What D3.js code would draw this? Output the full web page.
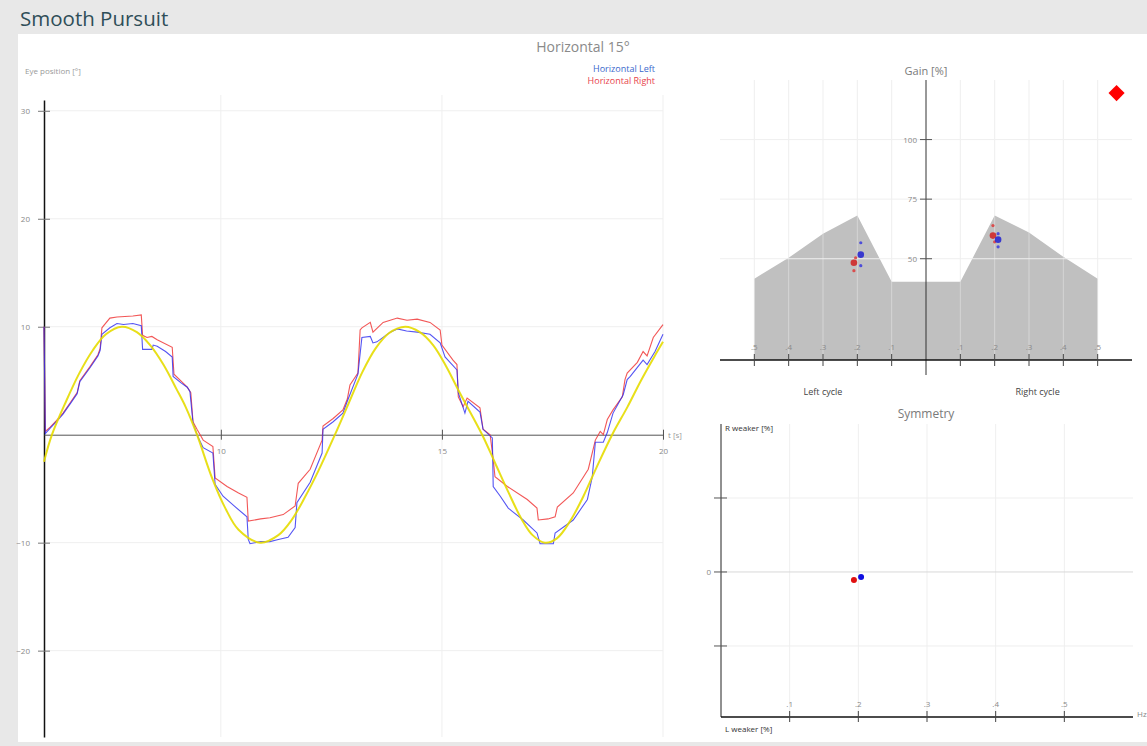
<!DOCTYPE html>
<html><head><meta charset="utf-8">
<script src="https://cdn.jsdelivr.net/npm/d3@7"></script>
<style>
html,body{margin:0;padding:0;background:#e8e8e8;}
svg{display:block;font-family:"Open Sans","Noto Sans",sans-serif;}
</style></head><body>
<svg id="c" width="1147" height="746"></svg>
<script>
// ---------------- data ----------------
const pageTitle = "Smooth Pursuit";
const mainTitle = "Horizontal 15°";
const yAxisLabel = "Eye position [°]";
const seriesNames = ["Horizontal Left", "Horizontal Right"];
const xAxisLabel = "t [s]";

const mainXTicks = [10, 15, 20];
const mainYTicks = [30, 20, 10, -10, -20];

// stimulus (target) position [t, deg]
const stimulus = [
 [6.0,-2.5],[6.18,0],[6.5,3.1],[6.8,5.7],[7.1,7.8],[7.4,9.3],[7.76,10.0],[8.1,9.5],[8.4,8.3],
 [8.7,6.5],[9.0,4.2],[9.2,2.6],[9.46,0],[9.8,-4.0],[10.1,-6.8],[10.4,-8.8],[10.89,-10.0],
 [11.3,-9.3],[11.6,-7.9],[11.9,-5.8],[12.2,-3.4],[12.58,0],[12.9,3.0],[13.2,5.8],[13.5,8.0],
 [13.8,9.4],[14.17,10.0],[14.5,9.5],[14.8,8.3],[15.1,6.3],[15.4,3.9],[15.91,0],[16.2,-2.6],
 [16.5,-5.3],[16.8,-7.8],[17.05,-9.3],[17.33,-10.0],[17.6,-9.6],[17.9,-8.0],[18.2,-5.7],
 [18.5,-3.0],[18.85,0],[19.2,2.6],[19.5,5.0],[19.8,7.2],[20.0,8.6]
];

// Horizontal Left eye position [t, deg]
const horizontalLeft = [
 [6.00,10.0],[6.03,0.1],[6.14,0.6],[6.28,1.2],[6.43,1.9],[6.6,2.9],[6.75,3.8],[6.81,4.9],[7.04,6.2],[7.22,7.3],
 [7.27,7.8],[7.31,9.3],[7.49,9.9],[7.65,10.3],[7.8,10.2],[8.01,10.3],[8.20,10.1],[8.23,7.9],[8.44,7.9],
 [8.47,8.3],[8.56,8.2],[8.75,7.7],[8.90,7.2],[8.92,5.4],[9.1,4.8],[9.24,4.4],[9.30,4.0],[9.37,1.1],[9.48,-0.2],
 [9.60,-1.2],[9.82,-1.7],[9.87,-4.6],[10.05,-5.7],[10.3,-6.6],[10.59,-7.6],[10.62,-9.7],[10.66,-10.1],
 [10.9,-9.9],[11.11,-9.9],[11.3,-9.7],[11.52,-9.5],[11.68,-8.6],[11.72,-6.3],[12.02,-4.4],[12.29,-1.7],
 [12.31,0.5],[12.54,1.2],[12.76,2.0],[12.86,3.1],[13.10,5.6],[13.19,9.0],[13.38,9.1],[13.44,8.5],
 [13.53,8.6],[13.83,9.5],[13.99,9.8],[14.2,9.6],[14.44,9.5],[14.73,9.3],[14.96,8.5],[15.07,7.2],
 [15.34,6.0],[15.37,3.9],[15.52,2.0],[15.59,3.1],[15.86,2.1],[15.93,0.5],[16.14,-0.3],[16.16,-4.8],
 [16.32,-5.7],[16.50,-6.8],[16.59,-7.1],[16.84,-7.9],[17.15,-9.1],[17.22,-10.1],[17.52,-10.1],
 [17.56,-9.1],[17.97,-7.9],[18.29,-6.0],[18.40,-3.9],[18.47,-0.7],[18.65,-0.7],[18.74,0.2],
 [18.87,2.0],[19.10,3.7],[19.19,5.1],[19.26,5.4],[19.55,6.9],[19.64,6.5],[19.82,7.7],[20.00,9.3]
];

// Horizontal Right eye position [t, deg]
const horizontalRight = [
 [6.00,10.0],[6.03,0.3],[6.14,0.7],[6.28,1.3],[6.43,2.0],[6.6,3.0],[6.75,3.9],[6.81,5.0],[7.04,6.3],[7.22,7.4],
 [7.27,8.0],[7.31,9.9],[7.49,10.8],[7.65,10.9],[8.01,11.0],[8.20,11.1],[8.23,9.2],[8.33,9.0],
 [8.44,9.1],[8.56,8.8],[8.90,8.1],[8.94,5.6],[9.24,4.4],[9.32,3.9],[9.37,1.2],[9.46,0.5],[9.60,-0.5],
 [9.82,-1.1],[9.87,-4.0],[10.14,-4.8],[10.4,-5.4],[10.59,-5.8],[10.62,-8.0],[10.9,-7.8],[11.11,-7.7],[11.41,-7.4],
 [11.68,-6.6],[11.75,-4.5],[12.02,-3.2],[12.29,-0.5],[12.31,0.8],[12.54,1.5],[12.76,2.3],[12.86,3.3],
 [12.92,4.6],[13.10,5.7],[13.15,9.7],[13.19,9.9],[13.38,10.4],[13.44,9.5],[13.67,10.4],[13.99,10.8],
 [14.21,10.6],[14.44,10.7],[14.73,10.4],[14.96,9.7],[15.00,8.3],[15.25,6.9],[15.34,6.5],[15.37,3.5],
 [15.48,2.6],[15.57,3.4],[15.86,2.5],[15.93,0.5],[16.09,0.0],[16.16,-2.3],[16.20,-3.9],[16.48,-4.8],
 [16.93,-6.0],[17.15,-6.8],[17.18,-7.9],[17.4,-7.8],[17.56,-7.6],[17.61,-6.7],[17.97,-5.4],[18.31,-3.2],
 [18.47,-0.5],[18.58,0.3],[18.65,0.0],[18.74,1.4],[18.87,2.3],[19.08,3.5],[19.14,5.1],[19.19,5.7],
 [19.42,6.7],[19.55,7.7],[19.64,7.3],[19.78,9.0],[20.00,10.2]
];

// Gain panel
const gainTitle = "Gain [%]";
const gainYTicks = [100, 75, 50];
const gainXTicks = [-0.5, -0.4, -0.3, -0.2, -0.1, 0.1, 0.2, 0.3, 0.4, 0.5];
const gainXTickLabels = [".5", ".4", ".3", ".2", ".1", ".1", ".2", ".3", ".4", ".5"];
const cycleLabels = ["Left cycle", "Right cycle"];
// normative range upper boundary [freq, gain %]
const gainNormUpper = [[-0.5,41.6],[-0.4,50.4],[-0.3,60.5],[-0.2,68.1],[-0.1,40.3],[0.1,40.3],[0.2,68.1],[0.3,61.0],[0.4,50.8],[0.5,41.6]];
const gainNormBase = 7.5;
// mean gain per side [freq, gain]
const gainMeanLeftEye = [[-0.19, 51.7], [0.21, 58.0]];
const gainMeanRightEye = [[-0.21, 48.3], [0.195, 59.7]];
// single-cycle gains
const gainCyclesLeftEye = [[-0.19, 56.7], [-0.19, 47.1], [0.21, 60.5], [0.21, 55.0]];
const gainCyclesRightEye = [[-0.205, 50.4], [-0.21, 45.0], [0.195, 63.9], [0.20, 57.1]];
const gainFlag = [[0.555, 119.5]];

// Symmetry panel
const symTitle = "Symmetry";
const symXTicks = [0.1, 0.2, 0.3, 0.4, 0.5];
const symXTickLabels = [".1", ".2", ".3", ".4", ".5"];
const symYTicks = [25, 0, -25];
const symYTickLabels = ["", "0", ""];
const symTopLabel = "R weaker [%]";
const symBottomLabel = "L weaker [%]";
const symUnit = "Hz";
const symLeftEye = [[0.204, -1.7]];
const symRightEye = [[0.1936, -2.7]];

// ---------------- drawing ----------------
const svg = d3.select("#c");
const BLUE = "#2b2bf0", RED = "#f03a3a", YEL = "#e6dc00";
const GRID = "#efefef";

svg.append("rect").attr("x",0).attr("y",0).attr("width",1147).attr("height",746).attr("fill","#e8e8e8");
svg.append("rect").attr("x",18).attr("y",34).attr("width",1129).attr("height",708).attr("fill","#fff");
svg.append("text").attr("x",20).attr("y",26).attr("font-size",20.5).attr("fill","#2f4e58").text(pageTitle);

// ---- main chart
const mx = d3.scaleLinear([6, 20], [44, 663]);
const my = d3.scaleLinear([-28, 31], [737, 100]);
const main = svg.append("g");

main.selectAll(".hg").data(mainYTicks).join("line")
  .attr("x1", mx(6)).attr("x2", mx(20)).attr("y1", d=>my(d)).attr("y2", d=>my(d))
  .attr("stroke", GRID).attr("stroke-width", 1);
main.selectAll(".vg").data(mainXTicks).join("line")
  .attr("x1", d=>mx(d)).attr("x2", d=>mx(d)).attr("y1", 95).attr("y2", my(-28))
  .attr("stroke", GRID).attr("stroke-width", 1);

// y axis
const yAx = main.append("g").attr("transform", `translate(${mx(6)},0)`)
  .call(d3.axisLeft(my).tickValues(mainYTicks).tickSize(6).tickSizeOuter(0).tickPadding(8));
yAx.select(".domain").attr("stroke", "#111").attr("stroke-width", 1.5);
yAx.selectAll(".tick line").attr("x1", -6).attr("x2", 6).attr("stroke", "#777");
yAx.selectAll(".tick text").attr("fill", "#888").attr("font-size", 8).attr("font-family", "Open Sans, sans-serif");

// x axis at 0
const xAx = main.append("g").attr("transform", `translate(0,${my(0)})`)
  .call(d3.axisBottom(mx).tickValues(mainXTicks).tickSize(5).tickSizeOuter(0).tickPadding(9));
xAx.select(".domain").attr("stroke", "#555").attr("stroke-width", 1);
xAx.selectAll(".tick line").attr("y1", -5).attr("y2", 5).attr("stroke", "#555");
xAx.selectAll(".tick text").attr("fill", "#888").attr("font-size", 8).attr("font-family", "Open Sans, sans-serif");
main.append("text").attr("x", mx(20) + 5).attr("y", my(0) + 3).attr("font-size", 8).attr("fill", "#999").text(xAxisLabel);

const line = d3.line().x(d=>mx(d[0])).y(d=>my(d[1]));
main.append("path").datum(horizontalRight).attr("d", line).attr("fill","none").attr("stroke", RED).attr("stroke-width",1.1).attr("opacity",0.85);
main.append("path").datum(horizontalLeft).attr("d", line).attr("fill","none").attr("stroke", BLUE).attr("stroke-width",1.1).attr("opacity",0.8);
main.append("path").datum(stimulus).attr("d", d3.line().x(d=>mx(d[0])).y(d=>my(d[1])).curve(d3.curveCatmullRom))
  .attr("fill","none").attr("stroke", YEL).attr("stroke-width",2).attr("opacity",0.9);

main.append("text").attr("x", 583).attr("y", 52).attr("text-anchor","middle").attr("font-size",14).attr("fill","#8a8a8a").text(mainTitle);
main.append("text").attr("x", 25).attr("y", 74).attr("font-size",8).attr("fill","#999").text(yAxisLabel);
main.selectAll(".leg").data(seriesNames).join("text")
  .attr("x", 655).attr("y", (d,i)=>72 + i*12).attr("text-anchor","end").attr("font-size",9)
  .attr("fill", (d,i)=> i===0 ? "#3a68cc" : "#e8434b").text(d=>d);

// ---- gain chart
const gx = d3.scaleLinear([-0.6, 0.6], [720, 1132]);
const gy = d3.scaleLinear([gainNormBase, 125], [360, 80]);
const gain = svg.append("g");

const area = d3.area().x(d=>gx(d[0])).y0(gy(gainNormBase)).y1(d=>gy(d[1]));
gain.append("path").datum(gainNormUpper).attr("d", area).attr("fill", "#c0c0c0");

gain.selectAll(".gvg").data(gainXTicks).join("line")
  .attr("x1", d=>gx(d)).attr("x2", d=>gx(d)).attr("y1", gy(125)).attr("y2", gy(gainNormBase))
  .attr("stroke", "#e4e4e4").attr("stroke-opacity", 0.6);
gain.selectAll(".ghg").data(gainYTicks).join("line")
  .attr("x1", gx(-0.6)).attr("x2", gx(0.6)).attr("y1", d=>gy(d)).attr("y2", d=>gy(d))
  .attr("stroke", GRID);

gain.append("text").attr("x", gx(0)).attr("y", 75).attr("text-anchor","middle").attr("font-size",11).attr("fill","#7a7a7a").text(gainTitle);

// y axis
gain.append("line").attr("x1", gx(0)).attr("x2", gx(0)).attr("y1", gy(125)).attr("y2", gy(gainNormBase)+15).attr("stroke","#333").attr("stroke-width",1);
gain.selectAll(".gyt").data(gainYTicks).join("line")
  .attr("x1", gx(0)-6).attr("x2", gx(0)+6).attr("y1", d=>gy(d)).attr("y2", d=>gy(d)).attr("stroke","#555");
gain.selectAll(".gytl").data(gainYTicks).join("text")
  .attr("x", gx(0)-9).attr("y", d=>gy(d)+3).attr("text-anchor","end").attr("font-size",8).attr("fill","#888").text(d=>d);
// x axis
gain.append("line").attr("x1", gx(-0.6)).attr("x2", gx(0.6)).attr("y1", gy(gainNormBase)).attr("y2", gy(gainNormBase)).attr("stroke","#111").attr("stroke-width",1.5);
gain.selectAll(".gxt").data(gainXTicks).join("line")
  .attr("x1", d=>gx(d)).attr("x2", d=>gx(d)).attr("y1", gy(gainNormBase)-6).attr("y2", gy(gainNormBase)+6).attr("stroke","#444");
gain.selectAll(".gxtl").data(gainXTicks).join("text")
  .attr("x", d=>gx(d)).attr("y", gy(gainNormBase)-10).attr("text-anchor","middle").attr("font-size",8).attr("fill","#8a8a8a")
  .text((d,i)=>gainXTickLabels[i]);
gain.selectAll(".cyc").data(cycleLabels).join("text")
  .attr("x", (d,i)=> i===0 ? gx(-0.3) : gx(0.325)).attr("y", 395).attr("text-anchor","middle").attr("font-size",9).attr("fill","#444").text(d=>d);

function dots(g, data, r, color, sx, sy, op) {
  g.append("g").selectAll("circle").data(data).join("circle")
    .attr("cx", d=>sx(d[0])).attr("cy", d=>sy(d[1])).attr("r", r).attr("fill", color).attr("opacity", op);
}
dots(gain, gainCyclesRightEye, 1.6, "#e03030", gx, gy, 0.8);
dots(gain, gainCyclesLeftEye, 1.6, "#3030e0", gx, gy, 0.8);
dots(gain, gainMeanRightEye, 3.3, "#d02020", gx, gy, 0.85);
dots(gain, gainMeanLeftEye, 3.3, "#2020d0", gx, gy, 0.85);
gain.selectAll(".flag").data(gainFlag).join("path")
  .attr("transform", d=>`translate(${gx(d[0])},${gy(d[1])}) rotate(45)`)
  .attr("d", d3.symbol(d3.symbolSquare, 130)).attr("fill", "#ff0000");

// ---- symmetry chart
const sx = d3.scaleLinear([0, 0.6], [721, 1133]);
const sy = d3.scaleLinear([-49, 50], [717, 424]);
const sym = svg.append("g");
sym.selectAll(".svg").data(symXTicks).join("line")
  .attr("x1", d=>sx(d)).attr("x2", d=>sx(d)).attr("y1", sy(50)).attr("y2", sy(-49)).attr("stroke", GRID);
sym.selectAll(".shg").data(symYTicks).join("line")
  .attr("x1", sx(0)).attr("x2", sx(0.6)).attr("y1", d=>sy(d)).attr("y2", d=>sy(d))
  .attr("stroke", d=> d===0 ? "#d8d8d8" : GRID);
sym.append("text").attr("x", 926).attr("y", 418).attr("text-anchor","middle").attr("font-size",12).attr("fill","#7a7a7a").text(symTitle);
sym.append("line").attr("x1", sx(0)).attr("x2", sx(0)).attr("y1", sy(50)).attr("y2", sy(-49)).attr("stroke","#222").attr("stroke-width",1);
sym.selectAll(".syt").data(symYTicks).join("line")
  .attr("x1", sx(0)-7).attr("x2", sx(0)+6).attr("y1", d=>sy(d)).attr("y2", d=>sy(d)).attr("stroke","#555");
sym.selectAll(".sytl").data(symYTicks).join("text")
  .attr("x", sx(0)-10).attr("y", d=>sy(d)+3).attr("text-anchor","end").attr("font-size",8).attr("fill","#888")
  .text((d,i)=>symYTickLabels[i]);
sym.append("line").attr("x1", sx(0)).attr("x2", sx(0.6)).attr("y1", sy(-49)).attr("y2", sy(-49)).attr("stroke","#111").attr("stroke-width",1.5);
sym.selectAll(".sxt").data(symXTicks).join("line")
  .attr("x1", d=>sx(d)).attr("x2", d=>sx(d)).attr("y1", sy(-49)-6).attr("y2", sy(-49)+5).attr("stroke","#444");
sym.selectAll(".sxtl").data(symXTicks).join("text")
  .attr("x", d=>sx(d)).attr("y", sy(-49)-10).attr("text-anchor","middle").attr("font-size",8).attr("fill","#8a8a8a")
  .text((d,i)=>symXTickLabels[i]);
sym.append("text").attr("x", sx(0)+4).attr("y", 431).attr("font-size",8).attr("fill","#333").text(symTopLabel);
sym.append("text").attr("x", sx(0)+4).attr("y", 732).attr("font-size",8).attr("fill","#333").text(symBottomLabel);
sym.append("text").attr("x", 1137).attr("y", 717).attr("font-size",8).attr("fill","#888").text(symUnit);
dots(sym, symRightEye, 3, "#e01010", sx, sy, 1);
dots(sym, symLeftEye, 3, "#1010e0", sx, sy, 1);
</script>
</body></html>
